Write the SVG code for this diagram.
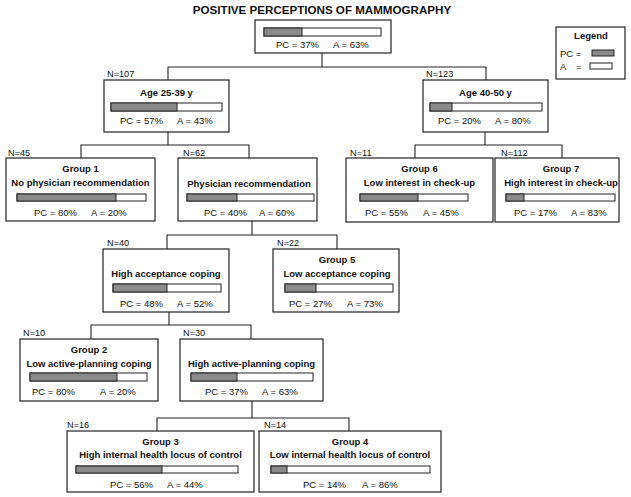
<svg xmlns="http://www.w3.org/2000/svg" width="631" height="497" viewBox="0 0 631 497">
<style>
text{font-family:"Liberation Sans",Arial,sans-serif;fill:#111;}
.t{font-size:11.6px;font-weight:bold;text-anchor:middle;}
.h{font-size:9.5px;font-weight:bold;text-anchor:middle;}
.v{font-size:9.5px;}
.n{font-size:9.2px;}
.box{fill:#fff;stroke:#222;stroke-width:1.2;}
.bar{fill:#fff;stroke:#222;stroke-width:1;}
.pc{fill:#8a8a8a;stroke:#222;stroke-width:1;}
#connectors path{fill:none;stroke:#222;stroke-width:1.1;}
</style>
<rect width="631" height="497" fill="#fff"/>
<text class="t" x="322" y="14">POSITIVE PERCEPTIONS OF MAMMOGRAPHY</text>

<g id="connectors">
<path d="M322,53V67M168,80V67H486V80"/>
<path d="M168,132V145M81,158V145H249V158"/>
<path d="M485,132V145M415,158V145H562V158"/>
<path d="M252,221V235M167,249V235H337V249"/>
<path d="M169,312V325M91,339V325H251V339"/>
<path d="M252,401V418M157,431V418H349V431"/>
</g>

<g id="legend">
<rect class="box" x="556" y="27" width="69" height="52"/>
<text class="h" x="591" y="39">Legend</text>
<text class="v" x="560" y="57">PC =</text>
<rect class="pc" x="592" y="50" width="22" height="6"/>
<text class="v" x="560" y="70">A</text>
<text class="v" x="576" y="70">=</text>
<rect class="bar" x="590" y="63" width="22" height="6"/>
</g>

<g id="root">
<rect class="box" x="255" y="20" width="136" height="33"/>
<rect class="bar" x="264" y="28" width="117" height="8"/>
<rect class="pc" x="264" y="28" width="38" height="8"/>
<text class="v" x="276" y="48">PC = 37%</text>
<text class="v" x="333" y="48">A = 63%</text>
</g>

<g id="age2539">
<text class="n" x="107" y="77">N=107</text>
<rect class="box" x="104" y="80" width="125" height="52"/>
<text class="h" x="166.5" y="96">Age 25-39 y</text>
<rect class="bar" x="111" y="103" width="111" height="8"/>
<rect class="pc" x="111" y="103" width="66" height="8"/>
<text class="v" x="120" y="124">PC = 57%</text>
<text class="v" x="177" y="124">A = 43%</text>
</g>

<g id="age4050">
<text class="n" x="426" y="77">N=123</text>
<rect class="box" x="423" y="80" width="125" height="52"/>
<text class="h" x="485.5" y="96">Age 40-50 y</text>
<rect class="bar" x="430" y="103" width="112" height="8"/>
<rect class="pc" x="430" y="103" width="22" height="8"/>
<text class="v" x="438" y="124">PC = 20%</text>
<text class="v" x="495" y="124">A = 80%</text>
</g>

<g id="group1">
<text class="n" x="8" y="156">N=45</text>
<rect class="box" x="6" y="158" width="149" height="63"/>
<text class="h" x="80.5" y="172">Group 1</text>
<text class="h" x="80.5" y="186">No physician recommendation</text>
<rect class="bar" x="17" y="194" width="129" height="7"/>
<rect class="pc" x="17" y="194" width="99" height="7"/>
<text class="v" x="34" y="216">PC = 80%</text>
<text class="v" x="91" y="216">A = 20%</text>
</g>

<g id="physician">
<text class="n" x="183" y="156">N=62</text>
<rect class="box" x="178" y="158" width="139" height="63"/>
<text class="h" x="249" y="187">Physician recommendation</text>
<rect class="bar" x="187" y="194" width="127" height="7"/>
<rect class="pc" x="187" y="194" width="50" height="7"/>
<text class="v" x="204" y="216">PC = 40%</text>
<text class="v" x="259" y="216">A = 60%</text>
</g>

<g id="group6">
<text class="n" x="350" y="156">N=11</text>
<rect class="box" x="346" y="158" width="147" height="64"/>
<text class="h" x="419.5" y="172">Group 6</text>
<text class="h" x="419.5" y="186">Low interest in check-up</text>
<rect class="bar" x="360" y="194" width="108" height="7"/>
<rect class="pc" x="360" y="194" width="58" height="7"/>
<text class="v" x="365" y="216">PC = 55%</text>
<text class="v" x="423" y="216">A = 45%</text>
</g>

<g id="group7">
<text class="n" x="501" y="156">N=112</text>
<rect class="box" x="495" y="158" width="124" height="64"/>
<text class="h" x="561" y="172">Group 7</text>
<text class="h" x="561" y="186">High interest in check-up</text>
<rect class="bar" x="506" y="194" width="109" height="7"/>
<rect class="pc" x="506" y="194" width="18" height="7"/>
<text class="v" x="514" y="216">PC = 17%</text>
<text class="v" x="571" y="216">A = 83%</text>
</g>

<g id="highacceptance">
<text class="n" x="107" y="246">N=40</text>
<rect class="box" x="103" y="249" width="126" height="63"/>
<text class="h" x="166" y="277">High acceptance coping</text>
<rect class="bar" x="113" y="284" width="108" height="8"/>
<rect class="pc" x="113" y="284" width="54" height="8"/>
<text class="v" x="120" y="307">PC = 48%</text>
<text class="v" x="177" y="307">A = 52%</text>
</g>

<g id="group5">
<text class="n" x="277" y="246">N=22</text>
<rect class="box" x="273" y="249" width="126" height="63"/>
<text class="h" x="337" y="263">Group 5</text>
<text class="h" x="337" y="277">Low acceptance coping</text>
<rect class="bar" x="285" y="284" width="108" height="8"/>
<rect class="pc" x="285" y="284" width="31" height="8"/>
<text class="v" x="289" y="307">PC = 27%</text>
<text class="v" x="347" y="307">A = 73%</text>
</g>

<g id="group2">
<text class="n" x="23" y="336">N=10</text>
<rect class="box" x="20" y="339" width="138" height="62"/>
<text class="h" x="89" y="353">Group 2</text>
<text class="h" x="89" y="367">Low active-planning coping</text>
<rect class="bar" x="30" y="373" width="117" height="8"/>
<rect class="pc" x="30" y="373" width="87" height="8"/>
<text class="v" x="32" y="395">PC = 80%</text>
<text class="v" x="100" y="395">A = 20%</text>
</g>

<g id="highactive">
<text class="n" x="183" y="336">N=30</text>
<rect class="box" x="180" y="339" width="143" height="62"/>
<text class="h" x="251.5" y="367">High active-planning coping</text>
<rect class="bar" x="191" y="373" width="122" height="8"/>
<rect class="pc" x="191" y="373" width="46" height="8"/>
<text class="v" x="205" y="395">PC = 37%</text>
<text class="v" x="262" y="395">A = 63%</text>
</g>

<g id="group3">
<text class="n" x="67" y="428">N=16</text>
<rect class="box" x="67" y="431" width="187" height="61"/>
<text class="h" x="160.5" y="445">Group 3</text>
<text class="h" x="160.5" y="458">High internal health locus of control</text>
<rect class="bar" x="76" y="466" width="162" height="7"/>
<rect class="pc" x="76" y="466" width="86" height="7"/>
<text class="v" x="110" y="488">PC = 56%</text>
<text class="v" x="167" y="488">A = 44%</text>
</g>

<g id="group4">
<text class="n" x="264" y="428">N=14</text>
<rect class="box" x="259" y="431" width="182" height="61"/>
<text class="h" x="350" y="445">Group 4</text>
<text class="h" x="350" y="458">Low internal health locus of control</text>
<rect class="bar" x="271" y="466" width="159" height="7"/>
<rect class="pc" x="271" y="466" width="16" height="7"/>
<text class="v" x="303" y="488">PC = 14%</text>
<text class="v" x="362" y="488">A = 86%</text>
</g>
</svg>
